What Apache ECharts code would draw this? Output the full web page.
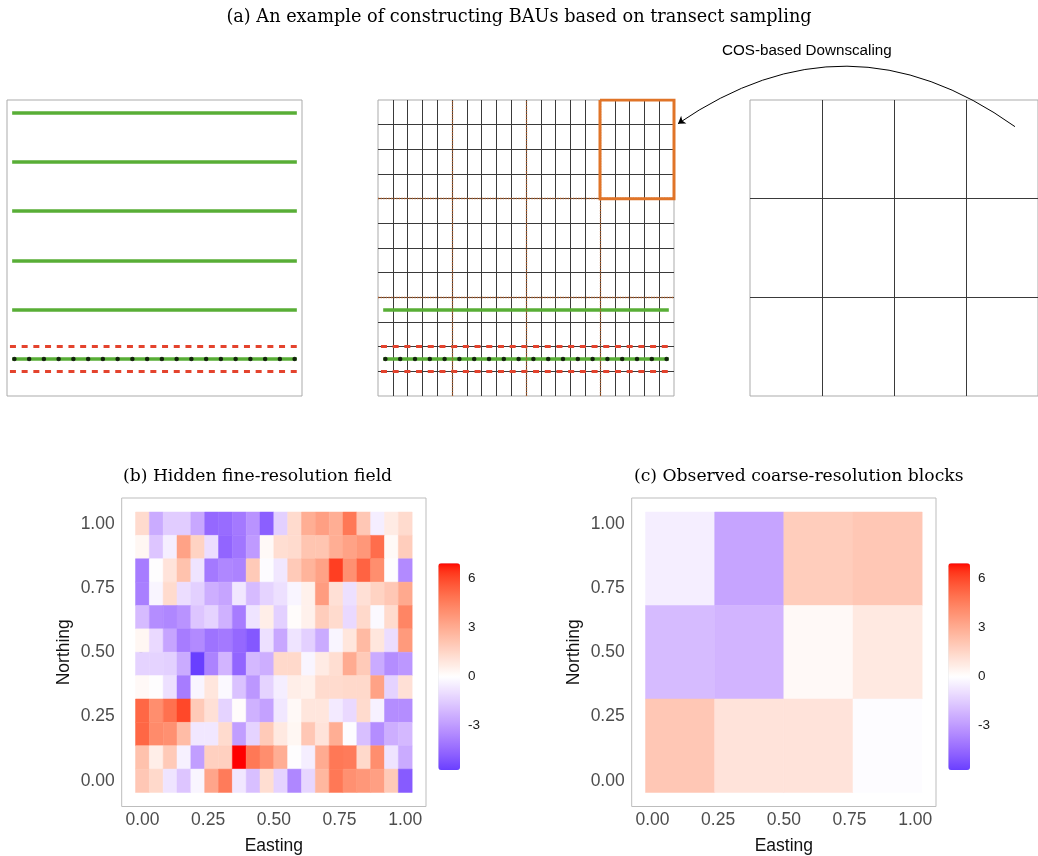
<!DOCTYPE html>
<html>
<head>
<meta charset="utf-8">
<title>Constructing BAUs based on transect sampling</title>
<script src="https://cdn.jsdelivr.net/npm/echarts@6/dist/echarts.min.js"></script>
<style>
  html, body { margin: 0; padding: 0; background: #fff; }
  #main { width: 1038px; height: 856px; }
</style>
</head>
<body>
<div id="main"></div>
<script>
// ---- data -------------------------------------------------------------
// hidden fine-resolution field: 12 rows (top = Northing 1.00) x 20 columns (Easting 0..1)
const fineRows = [
  [ 1.3, -2.5, -1.5, -1.5, -2.6, -4.5, -4.4, -4.0, -3.2, -4.8, -1.4,  1.3,  2.9,  3.4,  2.9,  4.7,  2.0, -0.5,  0.7,  1.3],
  [ 0.3, -1.7, -0.5,  3.3,  1.6, -1.0, -4.6, -4.1, -3.0,  0.2,  1.2,  1.3,  2.1,  2.1,  2.9,  3.3,  3.7,  5.0,  0.2,  1.8],
  [-3.9,  0.0,  1.0,  2.2, -0.8, -4.0, -3.6, -3.7,  1.9, -0.1, -0.7,  1.9,  2.7,  3.3,  6.2,  3.9,  5.3,  4.0,  0.0, -3.5],
  [-3.8, -0.3,  1.3, -1.0, -1.4, -2.4, -2.7, -0.7, -2.0, -1.3, -0.9, -0.3,  0.5,  3.5,  1.1, -0.9,  1.1,  1.6,  2.0,  3.1],
  [-2.0, -3.4, -3.6, -3.2, -1.7, -1.3, -2.3, -3.9, -0.8,  0.6, -1.4,  0.1,  0.5,  1.8,  1.3, -1.1,  1.4, -0.2,  1.3,  4.3],
  [ 0.3, -1.1, -2.7, -3.9, -3.5, -4.2, -4.0, -4.5, -5.0, -0.9, -2.6, -0.8, -1.4, -2.5, -0.3,  0.9,  2.5,  0.9, -1.0,  3.6],
  [-1.3, -1.3, -1.4, -2.5, -5.7, -3.7, -2.2, -4.6, -2.1, -2.4,  1.4,  1.4, -0.3,  0.7,  1.2,  3.0,  1.9, -2.5, -3.4, -3.1],
  [ 0.2,  0.0, -0.9, -3.9, -0.3,  0.9, -0.2, -1.8, -3.1, -1.3, -0.5,  0.6,  0.5,  1.3,  1.3,  1.4,  1.4,  3.3, -1.3,  1.1],
  [ 5.2,  4.0,  4.9,  6.0,  1.9,  1.1, -1.3,  0.1, -2.3, -2.8, -0.7,  0.2,  0.9,  0.9, -0.6, -1.1,  1.3, -0.4, -3.4, -3.4],
  [ 5.2,  4.1,  3.9,  2.4, -0.7, -0.7,  1.3, -2.9, -1.3,  1.9,  0.8,  0.3,  2.0,  1.0,  2.9, -0.1, -1.9, -3.4, -2.4, -2.1],
  [ 2.2,  0.6,  1.9, -0.4, -2.9,  1.7,  1.7,  6.9,  4.7,  4.0,  2.9,  0.0, -0.5,  3.0,  4.7,  4.6,  1.4,  4.0, -0.8, -2.5],
  [ 2.0,  1.4, -0.8, -1.7, -0.3,  3.2,  4.6, -0.7, -1.9,  1.2, -1.3, -3.6, -1.2,  2.6,  4.7,  3.9,  3.7,  3.4,  1.9, -4.9]
];
// observed coarse-resolution blocks: 3 rows (top first) x 4 columns
const coarseRows = [
  [-0.5, -2.7, 1.8, 2.0],
  [-2.0, -2.2, 0.2, 0.8],
  [ 2.0,  1.0, 1.0, -0.1]
];
const fillMin = -5.7, fillMax = 6.9;
const axisTicks = [0, 0.25, 0.5, 0.75, 1];
const legendTicks = [-3, 0, 3, 6];

// panel (a): BAU grid is 20 x 12 cells, coarse blocks are 5 x 4 cells
const transectRows = [11.5, 9.5, 7.5, 5.5, 3.5, 1.5];   // left panel transects (row centres)
const midTransects = [3.5, 1.5];                         // middle panel transects
const sampledRow = 1.5;
const bufferRows = [1, 2];
const samplePts = [0.5, 1.5, 2.5, 3.5, 4.5, 5.5, 6.5, 7.5, 8.5, 9.5,
                   10.5, 11.5, 12.5, 13.5, 14.5, 15.5, 16.5, 17.5, 18.5, 19.5];
const lineSpan = [0.35, 19.65];
const bufferSpan = [0.2, 19.8];
const blockCols = [5, 10, 15];
const blockRows = [4, 8];
const highlight = [[15, 12], [15, 8], [20, 8], [20, 12], [15, 12]];
const arrowPath = [[3.68, 2.73], [-1.0, 2.76]];          // in right-panel block units

// ---- colours: ggplot gradient2 (blue / white / red) interpolated in Lab ----
function toLin(c) { c /= 255; return c <= 0.04045 ? c / 12.92 : Math.pow((c + 0.055) / 1.055, 2.4); }
function fromLin(c) {
  c = c <= 0.0031308 ? 12.92 * c : 1.055 * Math.pow(c, 1 / 2.4) - 0.055;
  return Math.round(Math.max(0, Math.min(1, c)) * 255);
}
function rgbToLab(rgb) {
  const r = toLin(rgb[0]), g = toLin(rgb[1]), b = toLin(rgb[2]);
  const X = (0.4124 * r + 0.3576 * g + 0.1805 * b) / 0.95047;
  const Y = (0.2126 * r + 0.7152 * g + 0.0722 * b);
  const Z = (0.0193 * r + 0.1192 * g + 0.9505 * b) / 1.08883;
  const f = t => t > 0.008856 ? Math.cbrt(t) : 7.787 * t + 16 / 116;
  const fx = f(X), fy = f(Y), fz = f(Z);
  return [116 * fy - 16, 500 * (fx - fy), 200 * (fy - fz)];
}
function labToHex(lab) {
  const fy = (lab[0] + 16) / 116, fx = fy + lab[1] / 500, fz = fy - lab[2] / 200;
  const inv = t => t * t * t > 0.008856 ? t * t * t : (t - 16 / 116) / 7.787;
  const X = inv(fx) * 0.95047, Y = inv(fy), Z = inv(fz) * 1.08883;
  const r = 3.2406 * X - 1.5372 * Y - 0.4986 * Z;
  const g = -0.9689 * X + 1.8758 * Y + 0.0415 * Z;
  const b = 0.0557 * X - 0.2040 * Y + 1.0570 * Z;
  return '#' + [r, g, b].map(c => fromLin(c).toString(16).padStart(2, '0')).join('');
}
const labWhite = rgbToLab([255, 255, 255]), labRed = rgbToLab([255, 0, 0]), labBlue = rgbToLab([0, 0, 255]);
function fillColour(v) {
  const t = Math.min(1, Math.abs(v) / Math.max(-fillMin, fillMax));
  const end = v < 0 ? labBlue : labRed;
  return labToHex(labWhite.map((w, k) => w + (end[k] - w) * t));
}
const ramp = [];
for (let k = 0; k <= 80; k++) ramp.push(fillColour(fillMin + (fillMax - fillMin) * k / 80));

// ---- build tile data ---------------------------------------------------
const fineData = [];
fineRows.forEach((row, r) => row.forEach((v, i) => fineData.push([i / 19, (11 - r) / 11, v])));
const coarseData = [];
coarseRows.forEach((row, r) => row.forEach((v, i) => coarseData.push([(5 * i + 2) / 19, (4 * (2 - r) + 1.5) / 11, v])));

function tiles(w, h) {
  return function (params, api) {
    const x = api.value(0), y = api.value(1);
    const p0 = api.coord([x - w / 2, y + h / 2]);
    const p1 = api.coord([x + w / 2, y - h / 2]);
    const c = api.visual('color');
    return {
      type: 'rect',
      shape: { x: p0[0], y: p0[1], width: p1[0] - p0[0], height: p1[1] - p0[1] },
      style: { fill: c, stroke: c, lineWidth: 0.5 }
    };
  };
}

const green = '#58ae36', red = '#e4432d', serif = 'DejaVu Serif', sans = 'Liberation Sans';

function hiddenAxis(grid, min, max) {
  return { gridIndex: grid, type: 'value', min: min, max: max, show: false };
}
function gridAxis(grid, max) {
  return {
    gridIndex: grid, type: 'value', min: 0, max: max, interval: 1,
    axisLine: { show: false }, axisTick: { show: false }, axisLabel: { show: false },
    splitLine: { show: true, showMinLine: false, showMaxLine: false, lineStyle: { color: '#3a3a3a', width: 1 } }
  };
}
function mapX(grid, name) {
  return {
    gridIndex: grid, type: 'value', min: -0.0789, max: 1.0789,
    name: name, nameLocation: 'middle', nameGap: 30.5,
    nameTextStyle: { fontFamily: sans, fontSize: 17.5, color: '#111' },
    axisLine: { show: false },
    axisTick: { show: true, length: 3, customValues: axisTicks, lineStyle: { color: '#555' } },
    axisLabel: { customValues: axisTicks, margin: 5, fontFamily: sans, fontSize: 17.5, color: '#4d4d4d',
                 formatter: v => v.toFixed(2) },
    splitLine: { show: false }
  };
}
function mapY(grid, name) {
  return {
    gridIndex: grid, type: 'value', min: -0.1, max: 1.1,
    name: name, nameLocation: 'middle', nameGap: 49, nameRotate: 90,
    nameTextStyle: { fontFamily: sans, fontSize: 17.5, color: '#111' },
    axisLine: { show: false },
    axisTick: { show: true, length: 3, customValues: axisTicks, lineStyle: { color: '#555' } },
    axisLabel: { customValues: axisTicks, margin: 7, fontFamily: sans, fontSize: 17.5, color: '#4d4d4d',
                 formatter: v => v.toFixed(2) },
    splitLine: { show: false }
  };
}
function legendY(grid) {
  return {
    gridIndex: grid, type: 'value', min: fillMin, max: fillMax, position: 'right',
    axisLine: { show: false }, axisTick: { show: false }, splitLine: { show: false },
    axisLabel: { customValues: legendTicks, margin: 8, fontFamily: sans, fontSize: 13.5, color: '#1a1a1a' }
  };
}
function hLines(grid, rows, span, style) {
  return {
    type: 'lines', coordinateSystem: 'cartesian2d', xAxisIndex: grid, yAxisIndex: grid,
    clip: false, silent: true, lineStyle: style,
    data: rows.map(y => ({ coords: [[span[0], y], [span[1], y]] }))
  };
}
function dots(grid) {
  return {
    type: 'scatter', xAxisIndex: grid, yAxisIndex: grid, symbolSize: 4.5, silent: true, z: 5,
    itemStyle: { color: '#000' }, data: samplePts.map(x => [x, sampledRow])
  };
}
const greenStyle = { color: green, width: 3.5, opacity: 1 };
const redStyle = { color: red, width: 3, type: [6, 5.7], opacity: 1 };
const titleFont = { fontFamily: serif, fontSize: 17.2, fontWeight: 'normal', color: '#000' };

const chart = echarts.init(document.getElementById('main'));
chart.setOption({
  backgroundColor: '#fff',
  animation: false,
  title: [{
    text: '(a) An example of constructing BAUs based on transect sampling',
    left: 'center', top: 3,
    textStyle: { fontFamily: serif, fontSize: 17.7, fontWeight: 'normal', color: '#000' }
  }, {
    text: '(b) Hidden fine-resolution field', left: 118, top: 463, textStyle: titleFont
  }, {
    text: '(c) Observed coarse-resolution blocks', left: 629, top: 463, textStyle: titleFont
  }, {
    text: 'COS-based Downscaling', left: 717, top: 38,
    textStyle: { fontFamily: sans, fontSize: 15.2, fontWeight: 'normal', color: '#000' }
  }],
  grid: [
    { left: 7, top: 100, width: 295, height: 296, show: true, borderColor: '#ababab', borderWidth: 1, backgroundColor: '#fff' },
    { left: 378, top: 100, width: 296, height: 296, show: true, borderColor: '#ababab', borderWidth: 1, backgroundColor: '#fff' },
    { left: 750, top: 100, width: 296, height: 296, show: true, borderColor: '#ababab', borderWidth: 1, backgroundColor: '#fff' },
    { left: 121.7, top: 498, width: 304.3, height: 310, show: true, borderColor: '#bdbdbd', borderWidth: 1 },
    { left: 631.7, top: 498, width: 304.3, height: 310, show: true, borderColor: '#bdbdbd', borderWidth: 1 },
    { left: 438.3, top: 563.3, width: 21.7, height: 206.7 },
    { left: 948.3, top: 563.3, width: 21.7, height: 206.7 }
  ],
  xAxis: [
    hiddenAxis(0, 0, 20), gridAxis(1, 20), gridAxis(2, 4),
    mapX(3, 'Easting'), mapX(4, 'Easting'),
    hiddenAxis(5, 0, 1), hiddenAxis(6, 0, 1)
  ],
  yAxis: [
    hiddenAxis(0, 0, 12), gridAxis(1, 12), gridAxis(2, 3),
    mapY(3, 'Northing'), mapY(4, 'Northing'),
    legendY(5), legendY(6)
  ],
  visualMap: [
    { type: 'continuous', seriesIndex: 0, dimension: 2, min: fillMin, max: fillMax, calculable: false,
      left: 438.3, top: 563.3, itemWidth: 21.7, itemHeight: 206.7, padding: 0, text: null,
      inRange: { color: ramp } },
    { type: 'continuous', seriesIndex: 1, dimension: 2, min: fillMin, max: fillMax, calculable: false,
      left: 948.3, top: 563.3, itemWidth: 21.7, itemHeight: 206.7, padding: 0, text: null,
      inRange: { color: ramp } }
  ],
  series: [
    { type: 'custom', name: 'fine', xAxisIndex: 3, yAxisIndex: 3, renderItem: tiles(1 / 19, 1 / 11),
      encode: { x: 0, y: 1 }, data: fineData, silent: true },
    { type: 'custom', name: 'coarse', xAxisIndex: 4, yAxisIndex: 4, renderItem: tiles(5 / 19, 4 / 11),
      encode: { x: 0, y: 1 }, data: coarseData, silent: true },
    // left panel: transects, buffer and sample points
    hLines(0, transectRows, lineSpan, greenStyle),
    hLines(0, bufferRows, bufferSpan, redStyle),
    dots(0),
    // middle panel: block boundaries, highlighted block, transects
    { type: 'lines', coordinateSystem: 'cartesian2d', xAxisIndex: 1, yAxisIndex: 1, silent: true, z: 3,
      lineStyle: { color: '#b5612a', width: 1.3, type: 'dotted', opacity: 1 },
      data: blockCols.map(x => ({ coords: [[x, 0], [x, 12]] }))
        .concat(blockRows.map(y => ({ coords: [[0, y], [20, y]] }))) },
    { type: 'lines', coordinateSystem: 'cartesian2d', xAxisIndex: 1, yAxisIndex: 1, silent: true, z: 4,
      polyline: true, lineStyle: { color: '#e07428', width: 3, opacity: 1 }, data: [{ coords: highlight }] },
    hLines(1, midTransects, lineSpan, greenStyle),
    hLines(1, bufferRows, bufferSpan, redStyle),
    dots(1),
    // right panel: downscaling arrow
    { type: 'lines', coordinateSystem: 'cartesian2d', xAxisIndex: 2, yAxisIndex: 2, silent: true, clip: false,
      symbol: ['none', 'arrow'], symbolSize: 7,
      lineStyle: { color: '#000', width: 1, curveness: -0.35, opacity: 1 },
      data: [{ coords: arrowPath }] }
  ]
});
</script>
</body>
</html>
